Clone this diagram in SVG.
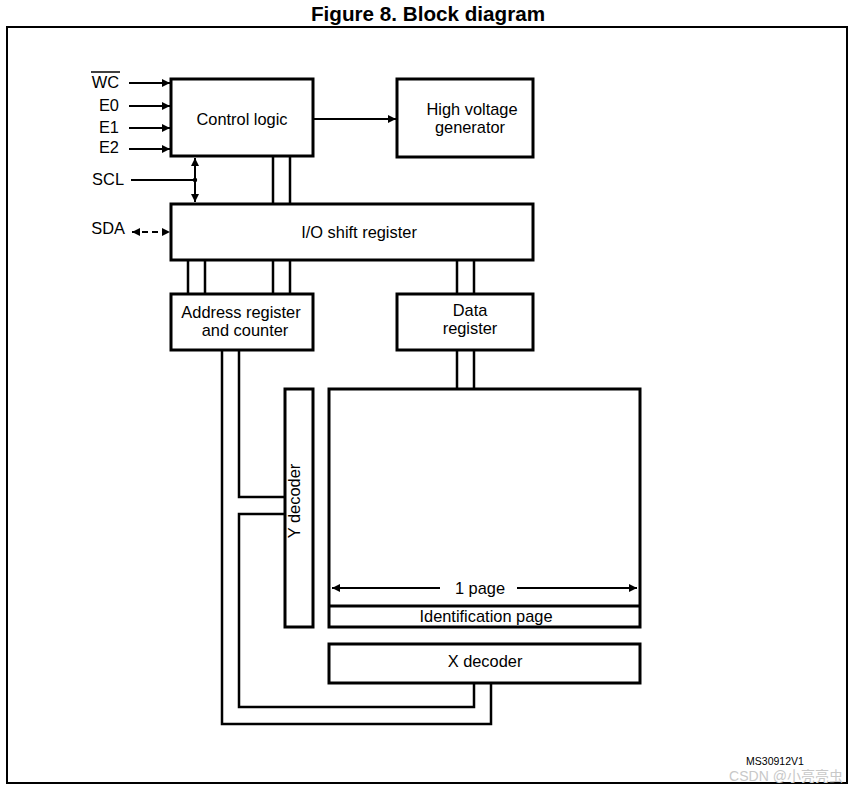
<svg xmlns="http://www.w3.org/2000/svg" width="857" height="789" viewBox="0 0 857 789">
<style>
.box{fill:#fff;stroke:#000;stroke-width:3}
.bus{fill:none;stroke:#000;stroke-width:2.5}
.ln{fill:none;stroke:#000;stroke-width:2}
.t{font-family:"Liberation Sans",Arial,sans-serif;font-size:16.4px;fill:#000;text-anchor:middle}
.lbl{font-family:"Liberation Sans",Arial,sans-serif;font-size:16.4px;fill:#000}
</style>
<defs>
<marker id="ah" viewBox="0 0 10 10" refX="10" refY="5" markerWidth="10" markerHeight="8" markerUnits="userSpaceOnUse" orient="auto-start-reverse">
<path d="M0,0 L10,5 L0,10 z" fill="#000"/>
</marker>
</defs>
<rect width="857" height="789" fill="#fff"/>
<text x="428" y="21" font-family="Liberation Sans Narrow,Liberation Sans,Arial,sans-serif" font-weight="bold" font-size="20" text-anchor="middle" textLength="234" lengthAdjust="spacingAndGlyphs">Figure 8. Block diagram</text>
<path d="M7,784 V27 H847 V784" fill="none" stroke="#000" stroke-width="2"/>
<line x1="7" y1="783" x2="847" y2="783" stroke="#000" stroke-width="2"/>

<g id="connectors">
<line class="ln" x1="129" y1="83" x2="170" y2="83" marker-end="url(#ah)"/>
<line class="ln" x1="129" y1="106" x2="170" y2="106" marker-end="url(#ah)"/>
<line class="ln" x1="129" y1="128" x2="170" y2="128" marker-end="url(#ah)"/>
<line class="ln" x1="129" y1="149" x2="170" y2="149" marker-end="url(#ah)"/>
<line class="ln" x1="313" y1="119" x2="396" y2="119" marker-end="url(#ah)"/>
<line class="ln" x1="131" y1="180" x2="195" y2="180"/>
<circle cx="195" cy="180" r="2.2" fill="#000"/>
<line class="ln" x1="195" y1="158" x2="195" y2="202" marker-start="url(#ah)" marker-end="url(#ah)"/>
<line class="ln" x1="132" y1="232" x2="170" y2="232" stroke-dasharray="6,4" marker-start="url(#ah)" marker-end="url(#ah)"/>
<path class="bus" d="M273,156 V204 M290,156 V204"/>
<path class="bus" d="M188,260 V294 M205,260 V294 M273,260 V294 M290,260 V294"/>
<path class="bus" d="M457,260 V294 M474,260 V294"/>
<path class="bus" d="M457,350 V389 M474,350 V389"/>
<path class="bus" d="M239,350 V497 H285"/>
<path class="bus" d="M285,514 H239 V707 H474 V683"/>
<path class="bus" d="M222,350 V724 H491 V683"/>
</g>

<g id="inputs">
<text class="lbl" x="119" y="88" text-anchor="end">WC</text>
<line x1="91" y1="72" x2="120" y2="72" stroke="#000" stroke-width="1.5"/>
<text class="lbl" x="119" y="111" text-anchor="end">E0</text>
<text class="lbl" x="119" y="133" text-anchor="end">E1</text>
<text class="lbl" x="119" y="153" text-anchor="end">E2</text>
<text class="lbl" x="124" y="185" text-anchor="end">SCL</text>
<text class="lbl" x="125" y="234" text-anchor="end">SDA</text>
</g>

<g id="control-logic">
<rect class="box" x="171" y="79" width="142" height="77"/>
<text class="t" x="242" y="125">Control logic</text>
</g>
<g id="high-voltage">
<rect class="box" x="397" y="79" width="136" height="78"/>
<text class="t" x="472" y="115">High voltage</text>
<text class="t" x="470" y="133">generator</text>
</g>
<g id="io-shift">
<rect class="box" x="171" y="204" width="362" height="56"/>
<text class="t" x="359" y="238">I/O shift register</text>
</g>
<g id="address-register">
<rect class="box" x="171" y="294" width="142" height="56"/>
<text class="t" x="241" y="318">Address register</text>
<text class="t" x="245" y="336">and counter</text>
</g>
<g id="data-register">
<rect class="box" x="397" y="294" width="136" height="56"/>
<text class="t" x="470" y="316">Data</text>
<text class="t" x="470" y="334">register</text>
</g>
<g id="y-decoder">
<rect class="box" x="285" y="389" width="28" height="238"/>
<text class="t" transform="translate(300,501) rotate(-90)">Y decoder</text>
</g>
<g id="memory-array">
<rect class="box" x="329" y="389" width="311" height="238"/>
<line x1="329" y1="606" x2="640" y2="606" stroke="#000" stroke-width="3"/>
<line class="ln" x1="332" y1="588" x2="440" y2="588" marker-start="url(#ah)"/>
<line class="ln" x1="517" y1="588" x2="637" y2="588" marker-end="url(#ah)"/>
<text class="t" x="480" y="594">1 page</text>
<text class="t" x="486" y="622">Identification page</text>
</g>
<g id="x-decoder">
<rect class="box" x="329" y="644" width="311" height="39"/>
<text class="t" x="485" y="667">X decoder</text>
</g>
<text x="775" y="765" font-family="Liberation Sans,Arial,sans-serif" font-size="10.5" text-anchor="middle">MS30912V1</text>
<text x="786" y="781" font-family="Liberation Sans,'Noto Sans CJK SC',sans-serif" font-size="14" fill="#c8c8c8" text-anchor="middle">CSDN @小亮亮虫</text>
</svg>
